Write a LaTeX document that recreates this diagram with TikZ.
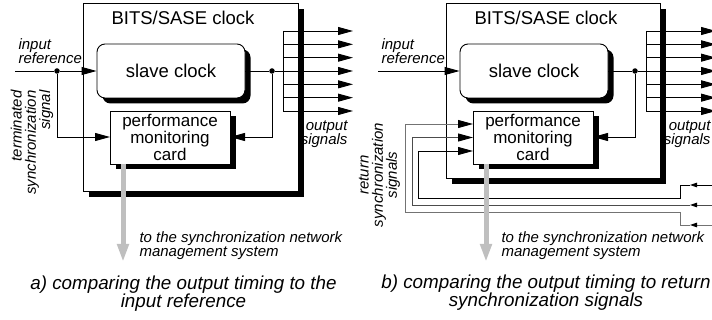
\documentclass[tikz,border=0pt]{standalone}
\usepackage{fontspec}
\setmainfont{Liberation Sans}
\usetikzlibrary{arrows.meta,shadows}
\begin{document}
\begin{tikzpicture}[x=1pt,y=-1pt,
  box/.style={draw, line width=0.9pt, fill=white, inner sep=0pt,
    general shadow={fill=black, shadow xshift=5.5pt, shadow yshift=-5.5pt}},
  ln/.style={line width=0.9pt},
  tip/.style={-{Triangle[length=15pt,width=8pt]}},
  smalltip/.style={-{Triangle[length=7pt,width=4.5pt,color=black]}},
  dot/.style={circle, fill=black, inner sep=0pt, minimum size=5.5pt},
  big/.style={font=\fontsize{18.5}{18}\selectfont},
  cardfont/.style={font=\fontsize{17}{15.5}\selectfont},
  small/.style={font=\fontsize{15}{14.2}\selectfont\itshape},
  caption/.style={font=\fontsize{18.8}{18}\selectfont\itshape, align=center},
  graytip/.style={line width=5pt, draw=black!25, -{Triangle[length=18pt,width=11pt]}}]
\useasboundingbox (0,0) rectangle (712,320);
\clip (0,0) rectangle (712,320);

% ---------------- panel a ----------------
\node[box, minimum width=215pt, minimum height=188pt, anchor=north west] (clkA) at (83,3) {};
\node[big] (titleA) at (183,18) {BITS/SASE clock};
\node[box, rounded corners=8pt, minimum width=148pt, minimum height=54pt, big] (slaveA) at (171,71) {slave clock};
\node[box, minimum width=120pt, minimum height=53pt, align=center, cardfont] (cardA) at (170,137.5) {performance\\monitoring\\card};

\coordinate (inA) at (15,71);
\node[dot] (djA) at (57,71) {};
\coordinate (cinA) at (110,137);
\draw[ln] (inA) -- (djA);
\draw[ln,tip] (djA) -- (slaveA.west);
\draw[ln,tip] (djA) |- (cinA);

\node[dot] (doA) at (272,71) {};
\coordinate (busA) at (283,71);
\coordinate (cinRA) at (230,137);
\draw[ln] (slaveA.east) -- (doA) -- (busA);
\draw[ln,tip] (doA) |- (cinRA);

\coordinate (busTopA) at (283,31);
\coordinate (busBotA) at (283,111);
\draw[ln] (busTopA) -- (busBotA);
\foreach \i in {0,...,6}{
  \coordinate (osA\i) at (283,31+\i*13.333);
  \coordinate (oeA\i) at (353,31+\i*13.333);
  \draw[ln,tip] (osA\i) -- (oeA\i);
}

\node[small, anchor=west, align=left] (irA) at (15,51) {input\\reference};
\node[small, anchor=east, align=right] (osigA) at (351,134) {output\\signals};
\node[small, rotate=90, align=right, anchor=east] (tsA) at (32,87) {terminated\\synchronization\\signal};
\node[small, anchor=west, align=left] (nmsA) at (136,245.5) {to the synchronization network\\management system};

\coordinate (gA) at (123,262);
\draw[graytip] (cardA.south -| gA) -- (gA);

\node[caption] (capA) at (183.5,294) {a) comparing the output timing to the\\input reference};

% ---------------- panel b ----------------
\begin{scope}[xshift=363pt]
\node[box, minimum width=214pt, minimum height=175pt, anchor=north west] (clkB) at (83,3) {};
\node[big] (titleB) at (183,18) {BITS/SASE clock};
\node[box, rounded corners=8pt, minimum width=148pt, minimum height=54pt, big] (slaveB) at (171,71) {slave clock};
\node[box, minimum width=120pt, minimum height=53pt, align=center, cardfont] (cardB) at (170,137.5) {performance\\monitoring\\card};

\coordinate (inB) at (15,71);
\draw[ln,tip] (inB) -- (slaveB.west);

\node[dot] (doB) at (272,71) {};
\coordinate (busB) at (283,71);
\coordinate (cinRB) at (230,137);
\draw[ln] (slaveB.east) -- (doB) -- (busB);
\draw[ln,tip] (doB) |- (cinRB);

\coordinate (busTopB) at (283,31);
\coordinate (busBotB) at (283,111);
\draw[ln] (busTopB) -- (busBotB);
\foreach \i in {0,...,6}{
  \coordinate (osB\i) at (283,31+\i*13.333);
  \coordinate (oeB\i) at (353,31+\i*13.333);
  \draw[ln,tip] (osB\i) -- (oeB\i);
}

% return synchronization signals
\coordinate (r1s) at (355,185);
\coordinate (r1t) at (327,185);
\coordinate (r1k) at (317,198);
\coordinate (r1v) at (55,198);
\coordinate (r1e) at (110,151);
\draw[ln,smalltip] (r1s) -- (r1t);
\draw[ln,tip] (r1t) -| (r1k) -- (r1v) |- (r1e);
\coordinate (r2s) at (355,205);
\coordinate (r2t) at (327,205);
\coordinate (r2v) at (49,205);
\coordinate (r2e) at (110,137.5);
\draw[ln,smalltip,draw=black!70] (r2s) -- (r2t);
\draw[ln,draw=black!70,-{Triangle[length=15pt,width=8pt,color=black]}] (r2t) -- (r2v) |- (r2e);
\coordinate (r3s) at (355,225);
\coordinate (r3t) at (327,225);
\coordinate (r3k) at (317,212);
\coordinate (r3v) at (42,212);
\coordinate (r3e) at (110,124);
\draw[ln,smalltip,draw=black!55] (r3s) -- (r3t);
\draw[ln,draw=black!55,-{Triangle[length=15pt,width=8pt,color=black]}] (r3t) -| (r3k) -- (r3v) |- (r3e);

\node[small, anchor=west, align=left] (irB) at (15,51) {input\\reference};
\node[small, anchor=east, align=right] (osigB) at (351,134) {output\\signals};
\node[small, rotate=90, align=center] (rsB) at (16.5,175) {return\\synchronization\\signals};
\node[small, anchor=west, align=left] (nmsB) at (135,245.5) {to the synchronization network\\management system};

\coordinate (gB) at (123,262);
\draw[graytip] (cardB.south -| gB) -- (gB);

\node[caption] (capB) at (183,293) {b) comparing the output timing to return\\synchronization signals};
\end{scope}
\end{tikzpicture}
\end{document}
